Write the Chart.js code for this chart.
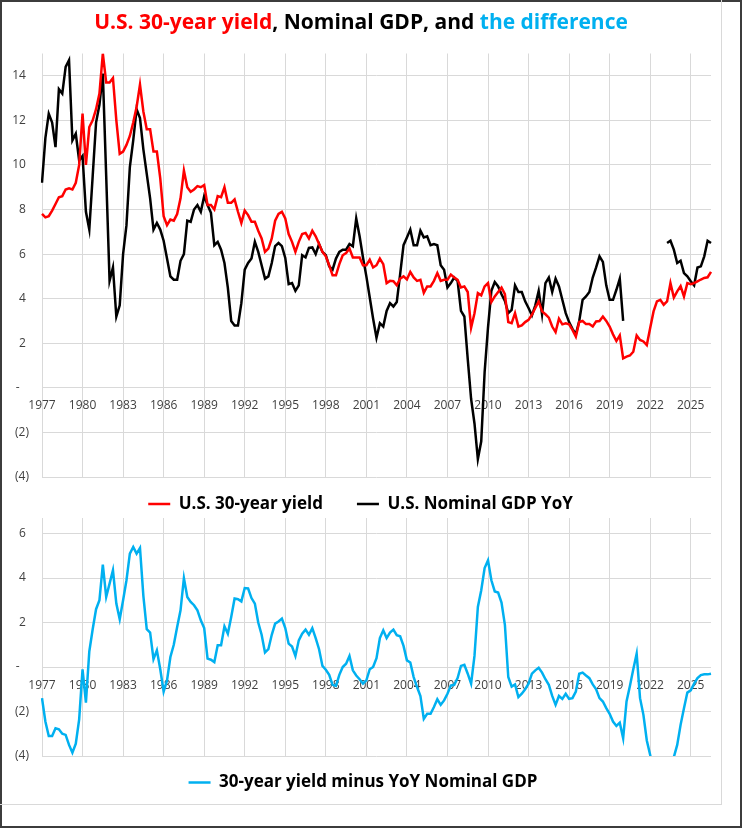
<!DOCTYPE html>
<html>
<head>
<meta charset="utf-8">
<script src="https://cdn.jsdelivr.net/npm/chart.js@4.4.1/dist/chart.umd.min.js"></script>
<style>
  body { margin: 0; background: #fff; }
  #frame { position: absolute; left: 0; top: 0; width: 742px; height: 828px; box-sizing: border-box; border: 2px solid #3c3c3c; }
  #box { position: absolute; left: 0; top: 0; width: 722px; height: 805px; box-sizing: border-box; border-right: 1px solid #d9d9d9; border-bottom: 1px solid #d9d9d9; }
  #title { position: absolute; left: 0; top: 7px; width: 722px; text-align: center; font: bold 21px "Open Sans", sans-serif; line-height: 28px; color: #000; }
  .wrap { position: absolute; left: 0; }
</style>
</head>
<body>
<div id="frame"></div>
<div id="box"></div>
<div class="wrap" style="top:0;width:722px;height:541px"><canvas id="top" width="722" height="541"></canvas></div>
<div class="wrap" style="top:490px;width:722px;height:315px"><canvas id="bottom" width="722" height="315"></canvas></div>
<div id="title"><span style="color:#ff0000">U.S. 30-year yield</span>, Nominal GDP, and <span style="color:#00b0f0">the difference</span></div>
<script>
// quarterly, 1977 Q1 .. 2026 Q3
const firstYear = 1977;
const quarterCount = 199;

const yield30 = [
  7.8, 7.65, 7.7, 7.95, 8.25, 8.55, 8.6, 8.9, 8.95, 8.9, 9.2, 10.0,
  12.3, 10.0, 11.7, 12.0, 12.5, 13.2, 15.0, 13.7, 13.7, 13.9, 12.0, 10.5,
  10.6, 10.9, 11.3, 11.9, 12.6, 13.6, 12.4, 11.6, 11.6, 10.6, 10.6, 9.4,
  7.7, 7.3, 7.55, 7.5, 7.8, 8.5, 9.75, 9.0, 8.8, 8.9, 9.05, 9.0,
  9.1, 8.2, 8.2, 8.0, 8.6, 8.55, 9.0, 8.3, 8.3, 8.45, 7.9, 7.4,
  7.95, 7.75, 7.45, 7.45, 7.05, 6.7, 6.1, 6.25, 6.7, 7.5, 7.8, 7.9,
  7.6, 6.9, 6.55, 6.1, 6.55, 6.9, 6.95, 6.7, 7.05, 6.8, 6.45, 6.1,
  5.9, 5.5, 5.05, 5.05, 5.55, 5.95, 6.05, 6.25, 5.85, 5.85, 5.85, 5.5,
  5.5, 5.75, 5.4, 5.5, 5.8, 5.55, 4.7, 4.8, 4.78, 4.6, 4.9, 5.0,
  4.86, 5.2, 4.95, 4.8, 4.85, 4.26, 4.55, 4.55, 4.8, 5.15, 4.8, 4.85,
  4.85, 5.08, 4.95, 4.85, 4.5, 4.55, 4.3, 2.7, 3.35, 4.25, 4.15, 4.55,
  4.7, 3.85, 4.1, 4.3, 4.5, 4.2, 2.95, 2.9, 3.35, 2.75, 2.8, 2.95,
  3.05, 3.28, 3.58, 3.88, 3.43, 3.3, 3.15, 2.75, 2.5, 3.1, 2.85, 2.9,
  2.85, 2.6, 2.3, 2.95, 3.0, 2.86, 2.86, 2.75, 2.98, 3.0, 3.2, 3.0,
  2.75, 2.4, 2.1, 2.35, 1.32, 1.4, 1.45, 1.62, 2.35, 2.15, 2.08, 1.92,
  2.68, 3.43, 3.88, 3.95, 3.73, 3.88, 4.7, 4.05, 4.33, 4.56, 4.1, 4.7,
  4.65, 4.7, 4.78, 4.86, 4.93, 4.96, 5.2
];

const nominalGdp = [
  9.2, 11.2, 12.3, 11.9, 10.8, 13.4, 13.2, 14.4, 14.7, 11.1, 11.4, 10.2,
  10.4, 7.9, 7.1, 9.5, 11.9, 12.7, 14.1, 9.5, 4.8, 5.4, 3.2, 3.7,
  6.0, 7.3, 9.9, 11.1, 12.5, 12.1, 10.7, 9.6, 8.5, 7.1, 7.4, 7.1,
  6.6, 5.8, 5.0, 4.85, 4.85, 5.7, 6.0, 7.5, 7.45, 8.0, 8.2, 7.9,
  8.6, 8.2, 7.85, 6.4, 6.55, 6.2, 5.6, 4.5, 3.0, 2.8, 2.8, 3.8,
  5.3, 5.6, 5.8, 6.55, 6.1, 5.5, 4.9, 5.0, 5.6, 6.36, 6.5, 6.36,
  5.83, 4.65, 4.7, 4.35, 4.6, 5.95, 5.85, 6.28, 6.3, 6.0, 6.45, 6.1,
  5.95, 5.45, 5.3, 5.8, 6.1, 6.2, 6.2, 6.45, 6.35, 7.6, 6.8, 5.85,
  5.0, 4.05, 3.1, 2.25, 2.9, 2.75, 3.45, 3.8, 3.65, 3.85, 5.1, 6.4,
  6.75, 7.1, 6.4, 6.4, 7.05, 6.75, 6.8, 6.4, 6.45, 6.4, 5.5, 5.3,
  4.5, 4.7, 4.95, 4.8, 3.45, 3.2, 1.3, -0.5, -1.6, -3.2, -2.4, 0.7,
  2.7, 4.35, 4.75, 4.55, 4.2, 3.9, 3.35, 3.5, 4.6, 4.3, 4.3, 3.88,
  3.58, 3.25, 3.7, 4.35, 3.3, 4.7, 4.95, 4.3, 4.9, 4.55, 3.95, 3.35,
  2.95, 2.65, 2.4, 3.0, 3.95, 4.1, 4.3, 4.95, 5.4, 5.9, 5.65, 4.6,
  3.95, 3.95, 4.4, 4.9, 3.0, null, null, null, null, null, null, null,
  null, null, null, null, null, 6.5, 6.6, 6.2, 5.6, 5.7, 5.15, 5.0,
  4.78, 4.6, 5.4, 5.45, 5.9, 6.6, 6.5
];

const yieldMinusGdp = [
  -1.4, -2.45, -3.1, -3.1, -2.75, -2.8, -3.0, -3.05, -3.5, -3.85, -3.45, -2.35,
  -0.1, -1.6, 0.7, 1.7, 2.6, 3.0, 4.6, 3.15, 3.75, 4.35, 2.85, 2.15,
  3.0, 3.9, 5.1, 5.4, 5.1, 5.35, 3.2, 1.7, 1.55, 0.35, 0.75, -0.1,
  -1.1, -0.6, 0.45, 1.0, 1.8, 2.55, 4.0, 3.15, 2.93, 2.78, 2.55, 2.1,
  1.75, 0.38, 0.33, 0.22, 0.98, 0.98, 1.83, 1.5, 2.25, 3.08, 3.05, 2.95,
  3.55, 3.53, 3.1, 2.85, 2.0, 1.45, 0.65, 0.8, 1.45, 1.95, 2.05, 2.18,
  1.75, 1.05, 0.92, 0.5, 1.2, 1.5, 1.68, 1.45, 1.75, 1.3, 0.8, 0.05,
  -0.12, -0.35, -0.8, -0.85, -0.35, 0.0, 0.15, 0.5, -0.15, -0.38, -0.55, -0.75,
  -0.6, -0.1, 0.0, 0.4, 1.3, 1.65, 1.3, 1.55, 1.68, 1.43, 1.38, 0.95,
  0.3, 0.2, -0.45, -0.9, -1.3, -2.33, -2.1, -2.1, -1.8, -1.45, -1.7, -1.5,
  -1.2, -0.83, -0.8, -0.5, 0.05, 0.1, -0.3, -0.75, 0.5, 2.7, 3.45, 4.45,
  4.8, 3.9, 3.4, 3.35, 2.9, 1.9, -0.45, -0.88, -0.78, -1.35, -1.2, -1.0,
  -0.75, -0.3, -0.15, -0.03, -0.25, -0.55, -0.8, -1.3, -1.7, -1.3, -1.43, -1.2,
  -1.43, -1.4, -1.1, -0.3, -0.25, -0.38, -0.5, -0.78, -1.0, -1.4, -1.55, -1.85,
  -2.1, -2.45, -2.65, -2.5, -3.2, -1.55, -0.85, -0.1, 0.6, -1.4, -2.15, -3.3,
  -3.95, -4.8, -5.6, -6.2, -6.4, -6.0, -5.3, -4.05, -3.5, -2.6, -1.85, -1.15,
  -1.05, -0.75, -0.5, -0.36, -0.33, -0.33, -0.3
];

const quarters = [];
for (let i = 0; i < quarterCount; i++) {
  quarters.push((firstYear + Math.floor(i / 4)) + ' Q' + (i % 4 + 1));
}

const gridColor = '#d9d9d9';
const textColor = '#404040';
const font = 'Open Sans';

function yTick(v) {
  if (v === 0) return '-   ';
  if (v < 0) return '(' + Math.abs(v) + ')';
  return v + ' ';
}

// nudge the legend box after layout (Excel centres it a bit differently)
const legendShift = {
  id: 'legendShift',
  afterLayout(chart, args, opts) {
    const lg = chart.legend;
    lg.left += opts.dx; lg.right += opts.dx;
    lg.top += opts.dy; lg.bottom += opts.dy;
  }
};

function makeOptions(minY, maxY, pad, legendPad, shift) {
  return {
    responsive: false,
    animation: false,
    layout: { padding: pad },
    scales: {
      x: {
        type: 'category',
        position: { y: 0 },
        border: { display: false },
        grid: {
          drawTicks: false,
          color: c => (c.index % 12 === 0 ? gridColor : 'rgba(0,0,0,0)')
        },
        ticks: {
          autoSkip: false,
          maxRotation: 0,
          padding: 11,
          color: textColor,
          font: { family: font, size: 12 },
          callback: function (val, idx) {
            return idx % 12 === 0 ? this.getLabelForValue(val).slice(0, 4) : '';
          }
        }
      },
      y: {
        min: minY,
        max: maxY,
        border: { display: false },
        grid: { color: gridColor, drawTicks: false },
        afterFit: s => { s.width = 42; },
        ticks: {
          stepSize: 2,
          includeBounds: false,
          padding: 13,
          color: textColor,
          font: { family: font, size: 12 },
          callback: yTick
        }
      }
    },
    plugins: {
      tooltip: { enabled: false },
      legendShift: shift,
      legend: {
        position: 'bottom',
        labels: {
          usePointStyle: true,
          pointStyle: 'line',
          pointStyleWidth: 22,
          padding: legendPad,
          color: '#000',
          font: { family: font, size: 17, weight: 'bold' }
        }
      }
    }
  };
}

function line(label, data, color) {
  return {
    label: label,
    data: data,
    borderColor: color,
    backgroundColor: color,
    borderWidth: 2.5,
    pointRadius: 0,
    pointStyle: 'line',
    tension: 0,
    spanGaps: false
  };
}

new Chart(document.getElementById('top'), {
  type: 'line',
  data: {
    labels: quarters,
    datasets: [
      line('U.S. 30-year yield', yield30, '#ff0000'),
      line('U.S. Nominal GDP YoY', nominalGdp, '#000000')
    ]
  },
  options: makeOptions(-4, 15, { top: 53.5, right: 11, left: 0, bottom: 3 }, 34, { dx: 5, dy: -15.5 }),
  plugins: [legendShift]
});

new Chart(document.getElementById('bottom'), {
  type: 'line',
  data: {
    labels: quarters,
    datasets: [
      line('30-year yield minus YoY Nominal GDP', yieldMinusGdp, '#00b0f0')
    ]
  },
  options: makeOptions(-4, 6.7, { top: 28, right: 11, left: 0, bottom: 4 }, 18, { dx: 7.5, dy: 0 }),
  plugins: [legendShift]
});
</script>
</body>
</html>
